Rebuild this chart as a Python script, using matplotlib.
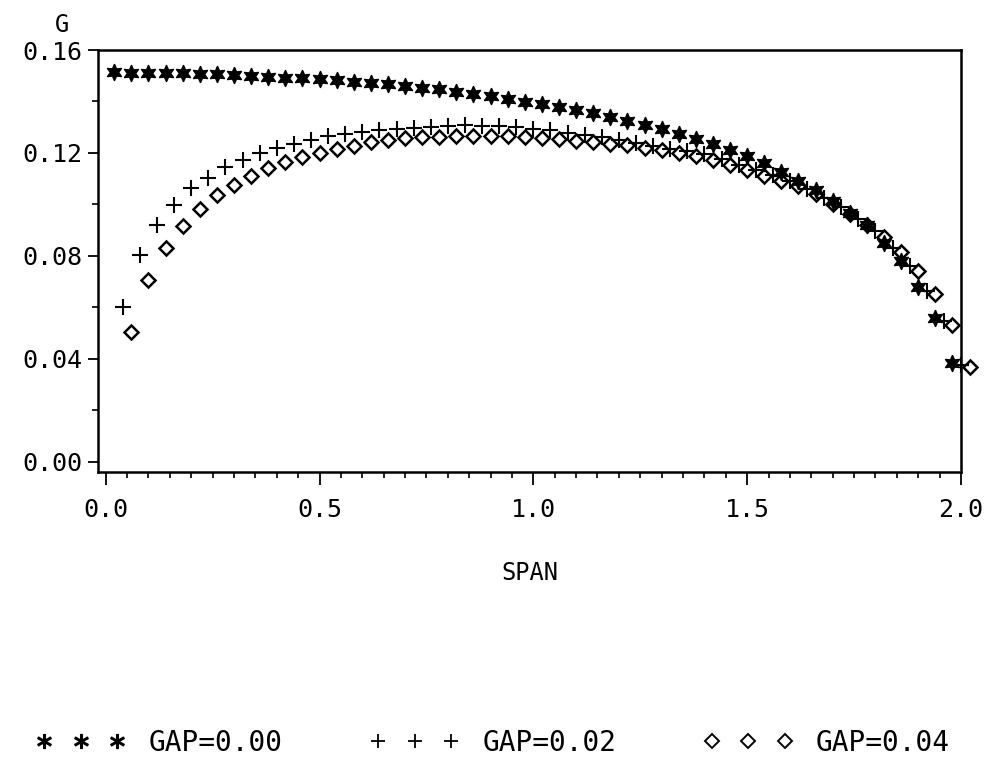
import matplotlib
matplotlib.use("Agg")
import matplotlib.pyplot as plt
from matplotlib.lines import Line2D
from matplotlib.ticker import MultipleLocator, FixedLocator

plt.rcParams['font.family'] = ['DejaVu Sans Mono', 'DejaVu Sans']

# =============================================================================
# DATA
# =============================================================================
STAR_X = [0.02, 0.06, 0.10, 0.14, 0.18, 0.22, 0.26, 0.30, 0.34, 0.38,
          0.42, 0.46, 0.50, 0.54, 0.58, 0.62, 0.66, 0.70, 0.74, 0.78,
          0.82, 0.86, 0.90, 0.94, 0.98, 1.02, 1.06, 1.10, 1.14, 1.18,
          1.22, 1.26, 1.30, 1.34, 1.38, 1.42, 1.46, 1.50, 1.54, 1.58,
          1.62, 1.66, 1.70, 1.74, 1.78, 1.82, 1.86, 1.90, 1.94, 1.98]
STAR_G = [0.1513, 0.1512, 0.1510, 0.1510, 0.1509, 0.1506, 0.1505, 0.1501, 0.1499, 0.1496,
          0.1492, 0.1490, 0.1487, 0.1482, 0.1476, 0.1471, 0.1466, 0.1460, 0.1453, 0.1447,
          0.1437, 0.1429, 0.1420, 0.1408, 0.1399, 0.1390, 0.1377, 0.1366, 0.1354, 0.1339,
          0.1324, 0.1309, 0.1293, 0.1275, 0.1255, 0.1233, 0.1210, 0.1188, 0.1159, 0.1127,
          0.1091, 0.1054, 0.1012, 0.0966, 0.0919, 0.0850, 0.0780, 0.0678, 0.0560, 0.0383]

PLUS_X = [0.04, 0.08, 0.12, 0.16, 0.20, 0.24, 0.28, 0.32, 0.36, 0.40,
          0.44, 0.48, 0.52, 0.56, 0.60, 0.64, 0.68, 0.72, 0.76, 0.80,
          0.84, 0.88, 0.92, 0.96, 1.00, 1.04, 1.08, 1.12, 1.16, 1.20,
          1.24, 1.28, 1.32, 1.36, 1.40, 1.44, 1.48, 1.52, 1.56, 1.60,
          1.64, 1.68, 1.72, 1.76, 1.80, 1.84, 1.88, 1.92, 1.96, 2.00]
PLUS_G = [0.0602, 0.0805, 0.0920, 0.0999, 0.1062, 0.1104, 0.1145, 0.1172, 0.1199, 0.1218,
          0.1236, 0.1249, 0.1264, 0.1274, 0.1281, 0.1288, 0.1292, 0.1298, 0.1301, 0.1305,
          0.1307, 0.1305, 0.1304, 0.1299, 0.1294, 0.1288, 0.1278, 0.1268, 0.1260, 0.1249,
          0.1238, 0.1228, 0.1217, 0.1207, 0.1195, 0.1175, 0.1155, 0.1135, 0.1113, 0.1090,
          0.1060, 0.1025, 0.0990, 0.0945, 0.0895, 0.0830, 0.0760, 0.0665, 0.0545, 0.0375]

DIAMOND_X = [0.06, 0.10, 0.14, 0.18, 0.22, 0.26, 0.30, 0.34, 0.38, 0.42,
             0.46, 0.50, 0.54, 0.58, 0.62, 0.66, 0.70, 0.74, 0.78, 0.82,
             0.86, 0.90, 0.94, 0.98, 1.02, 1.06, 1.10, 1.14, 1.18, 1.22,
             1.26, 1.30, 1.34, 1.38, 1.42, 1.46, 1.50, 1.54, 1.58, 1.62,
             1.66, 1.70, 1.74, 1.78, 1.82, 1.86, 1.90, 1.94, 1.98, 2.02]
DIAMOND_G = [0.0506, 0.0705, 0.0830, 0.0917, 0.0984, 0.1036, 0.1076, 0.1110, 0.1140, 0.1165,
             0.1185, 0.1200, 0.1215, 0.1228, 0.1241, 0.1250, 0.1258, 0.1261, 0.1262, 0.1264,
             0.1264, 0.1265, 0.1266, 0.1263, 0.1257, 0.1254, 0.1248, 0.1243, 0.1236, 0.1229,
             0.1219, 0.1210, 0.1200, 0.1187, 0.1172, 0.1154, 0.1132, 0.1112, 0.1092, 0.1071,
             0.1041, 0.1002, 0.0963, 0.0919, 0.0875, 0.0815, 0.0742, 0.0651, 0.0532, 0.0369]

X_TICKS = [0.0, 0.5, 1.0, 1.5, 2.0]
X_LABELS = ["0.0", "0.5", "1.0", "1.5", "2.0"]
Y_TICKS = [0.00, 0.04, 0.08, 0.12, 0.16]
Y_LABELS = ["0.00", "0.04", "0.08", "0.12", "0.16"]
SERIES_LABELS = ["GAP=0.00", "GAP=0.02", "GAP=0.04"]

# =============================================================================
# PLOT
# =============================================================================
W, H = 988, 762
fig = plt.figure(figsize=(W / 100, H / 100), dpi=100)

left, right, top, bottom = 98, 961, 50, 472
ax = fig.add_axes([left / W, 1 - bottom / H, (right - left) / W, (bottom - top) / H])

star = (6, 1, 0)
ax.plot(STAR_X, STAR_G, linestyle="none", marker=star, markersize=12,
        color="black", markeredgewidth=0.9, clip_on=False)
ax.plot(PLUS_X, PLUS_G, linestyle="none", marker="+", markersize=12,
        color="black", markeredgewidth=1.5, clip_on=False)
ax.plot(DIAMOND_X, DIAMOND_G, linestyle="none", marker="D", markersize=7.5,
        markerfacecolor="none", markeredgecolor="black", markeredgewidth=1.8,
        clip_on=False)

ax.set_xlim(-0.018, 2.0)
ax.set_ylim(-0.004, 0.16)

ax.xaxis.set_major_locator(FixedLocator(X_TICKS))
ax.set_xticklabels(X_LABELS)
ax.xaxis.set_minor_locator(MultipleLocator(0.05))
ax.yaxis.set_major_locator(FixedLocator(Y_TICKS))
ax.set_yticklabels(Y_LABELS)
ax.yaxis.set_minor_locator(MultipleLocator(0.02))

ax.tick_params(axis="both", which="both", direction="out", color="black",
               top=False, right=False)
ax.tick_params(axis="x", which="major", length=9, width=1.3, pad=10, labelsize=18)
ax.tick_params(axis="x", which="minor", length=4, width=1.2)
ax.tick_params(axis="y", which="major", length=7, width=1.3, pad=4, labelsize=18)
ax.tick_params(axis="y", which="minor", length=4, width=1.2)

for sp in ax.spines.values():
    sp.set_linewidth(1.8)

ax.set_xlabel("SPAN", fontsize=17, labelpad=28)
ax.set_ylabel("G", fontsize=17, rotation=0, va="center")
ax.yaxis.set_label_coords(-0.042, 1.059)

# legend along the bottom
handles = [
    Line2D([], [], linestyle="none", marker="$*$", markersize=10, color="black"),
    Line2D([], [], linestyle="none", marker="+", markersize=10,
           markeredgewidth=1.3, color="black"),
    Line2D([], [], linestyle="none", marker="D", markersize=7,
           markerfacecolor="none", markeredgecolor="black", markeredgewidth=1.4),
]
fig.legend(handles, SERIES_LABELS, loc="center", bbox_to_anchor=(0.499, 1 - 743 / H),
           ncol=3, numpoints=3, frameon=False, fontsize=20,
           handlelength=3.23, handletextpad=0.82, columnspacing=3.14)

fig.savefig("out.png", dpi=100)
